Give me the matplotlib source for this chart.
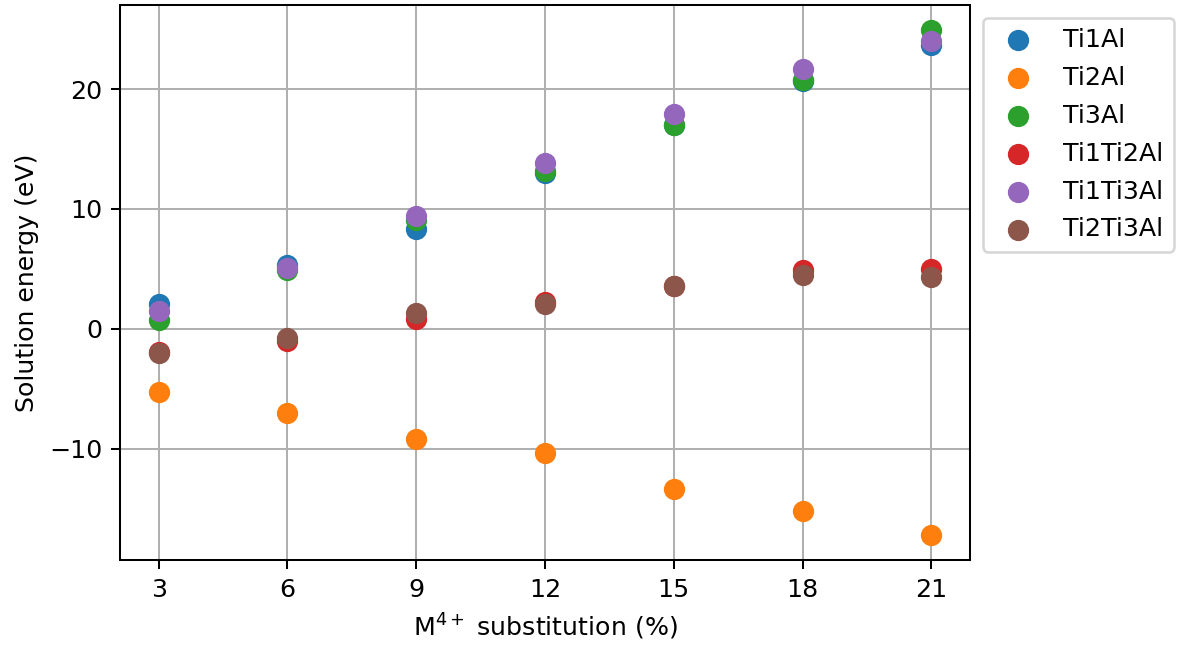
import matplotlib
matplotlib.use("Agg")
import matplotlib.pyplot as plt

# substitution levels (%)
subst = [3, 6, 9, 12, 15, 18, 21]

# solution energies (eV)
ti1al = [2.1, 5.3, 8.3, 13.0, 17.0, 20.7, 23.7]
ti2al = [-5.3, -7.0, -9.2, -10.4, -13.4, -15.2, -17.2]
ti3al = [0.7, 4.9, 9.1, 13.2, 17.0, 20.8, 24.9]
ti1ti2al = [-1.9, -1.05, 0.8, 2.2, 3.6, 4.9, 5.0]
ti1ti3al = [1.45, 5.1, 9.4, 13.8, 17.9, 21.7, 24.0]
ti2ti3al = [-2.0, -0.75, 1.3, 2.1, 3.55, 4.45, 4.35]

series = [
    ("Ti1Al", ti1al),
    ("Ti2Al", ti2al),
    ("Ti3Al", ti3al),
    ("Ti1Ti2Al", ti1ti2al),
    ("Ti1Ti3Al", ti1ti3al),
    ("Ti2Ti3Al", ti2ti3al),
]

DPI = 182
fig = plt.figure(figsize=(1179 / DPI, 646 / DPI), dpi=DPI)
ax = fig.add_axes([0.1018, 0.133, 0.7209, 0.859])

for label, vals in series:
    ax.scatter(subst, vals, s=55, label=label, zorder=3)

ax.set_xticks(subst)
ax.set_xlabel("M$^{4+}$ substitution (%)")
ax.set_ylabel("Solution energy (eV)")
ax.grid(True, zorder=0)
ax.set_axisbelow(True)
ax.legend(loc="upper left", bbox_to_anchor=(1.0, 1.0), labelspacing=0.55)

fig.savefig("out.png", dpi=DPI)
